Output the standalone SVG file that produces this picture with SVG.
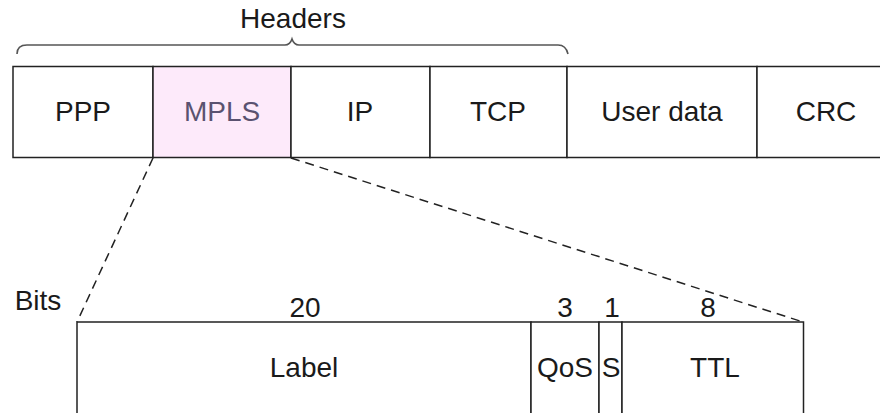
<svg xmlns="http://www.w3.org/2000/svg" width="880" height="413" viewBox="0 0 880 413">
<style>
.t{font-family:"Liberation Sans",Arial,sans-serif;font-size:28px;fill:#1a1a1a;text-anchor:middle}
.box{fill:#fff;stroke:#222;stroke-width:1.5}
.dash{fill:none;stroke:#222;stroke-width:1.5;stroke-dasharray:9 6}
.brace{fill:none;stroke:#555;stroke-width:1.6}
</style>
<rect width="880" height="413" fill="#fff"/>
<g id="headers">
<path class="brace" d="M17,54 Q17,45 27,45 L285,45 Q290,45 292,39 Q294,45 299,45 L558,45 Q566,45 568,54"/>
<text class="t" x="293" y="28">Headers</text>
</g>
<g id="ppp"><rect class="box" x="13" y="66.5" width="140" height="91"/><text class="t" x="83" y="121">PPP</text></g>
<g id="mpls"><rect class="box" x="153" y="66.5" width="138" height="91" style="fill:#fdeafa"/><text class="t" x="222" y="121" style="fill:#5a5270">MPLS</text></g>
<g id="ip"><rect class="box" x="291" y="66.5" width="139" height="91"/><text class="t" x="360" y="121">IP</text></g>
<g id="tcp"><rect class="box" x="430" y="66.5" width="137" height="91"/><text class="t" x="498" y="121">TCP</text></g>
<g id="userdata"><rect class="box" x="567" y="66.5" width="190" height="91"/><text class="t" x="662" y="121">User data</text></g>
<g id="crc"><rect class="box" x="757" y="66.5" width="150" height="91"/><text class="t" x="826" y="121">CRC</text></g>
<g id="connectors">
<line class="dash" x1="153" y1="158" x2="77" y2="322"/>
<line class="dash" x1="291" y1="158" x2="803" y2="322"/>
</g>
<g id="bits"><text class="t" x="38" y="310">Bits</text></g>
<g id="label-field"><rect class="box" x="77" y="322" width="454" height="110"/><text class="t" x="304" y="377">Label</text><text class="t" x="305" y="317">20</text></g>
<g id="qos-field"><rect class="box" x="531" y="322" width="68" height="110"/><text class="t" x="565" y="377">QoS</text><text class="t" x="565" y="317">3</text></g>
<g id="s-field"><rect class="box" x="599" y="322" width="23" height="110"/><text class="t" x="611" y="377">S</text><text class="t" x="612" y="317">1</text></g>
<g id="ttl-field"><rect class="box" x="622" y="322" width="181.5" height="110"/><text class="t" x="715" y="377">TTL</text><text class="t" x="708" y="317">8</text></g>
</svg>
